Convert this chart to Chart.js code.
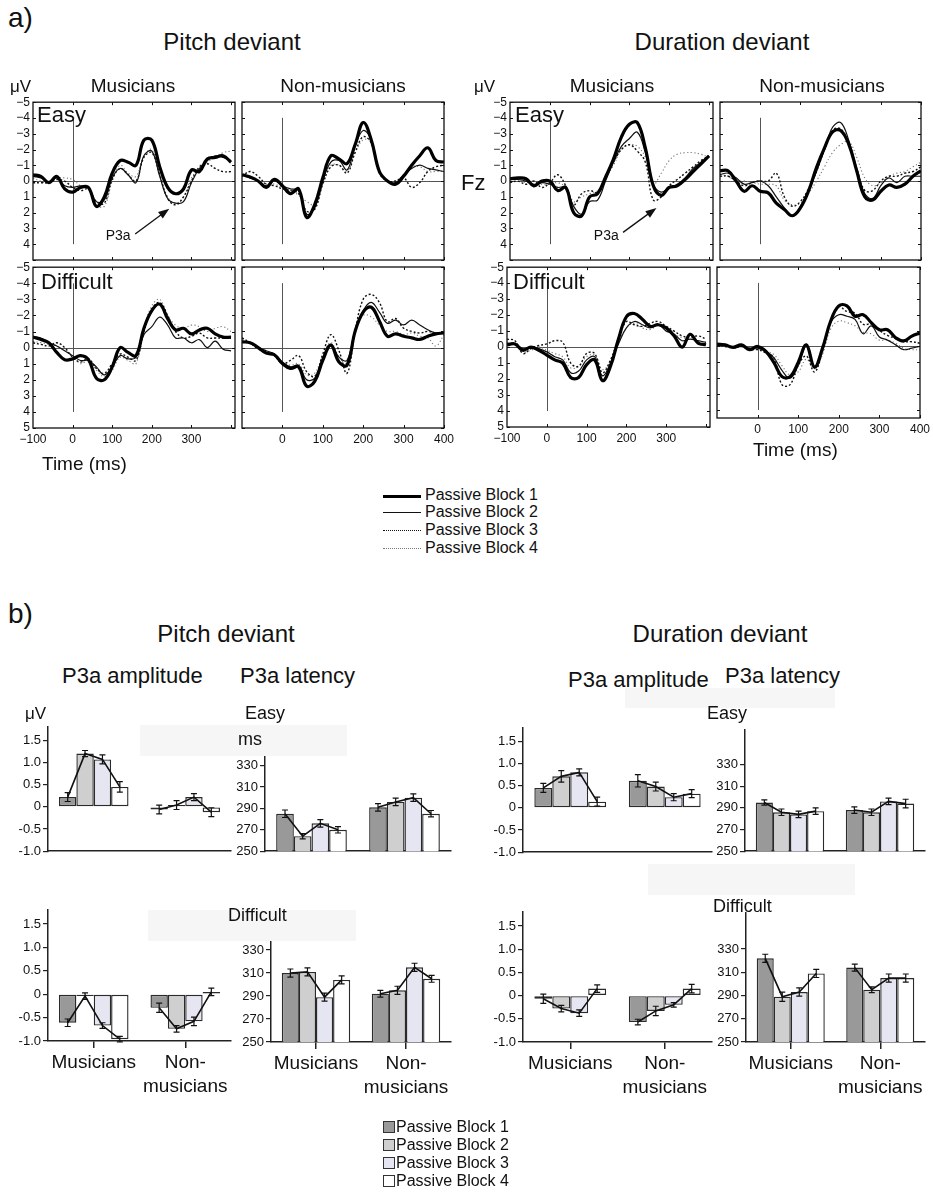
<!DOCTYPE html>
<html>
<head>
<meta charset="utf-8">
<script src="https://cdn.jsdelivr.net/npm/chart.js@4.4.1/dist/chart.umd.min.js"></script>
<style>
  body { margin: 0; background: #fff; font-family: "Liberation Sans", Arial, Helvetica, sans-serif; color: #111; }
  #page { position: relative; width: 933px; height: 1196px; overflow: hidden; background: #fff; }
  #page canvas { position: absolute; }
  .t { position: absolute; white-space: nowrap; line-height: 1; }
  .shade { position: absolute; background: #f6f6f6; }
</style>
</head>
<body>
<div id="page"></div>
<script>
Chart.defaults.font.family = '"Liberation Sans", Arial, Helvetica, sans-serif';
Chart.defaults.color = '#111';

// ── DATA ───────────────────────────────────────────────────────
const BLOCKS = ['Passive Block 1', 'Passive Block 2', 'Passive Block 3', 'Passive Block 4'];
const TIME = [-100,-80,-60,-40,-20,0,20,40,60,80,100,120,140,160,180,200,220,240,260,280,300,320,340,360,380,400];
const WAVE_Y_TICKS = [-5,-4,-3,-2,-1,0,1,2,3,4,5];

// a) ERP waveforms, Fz, µV (negative up)
const pitchMusEasy_b1 = [-0.4,-0.3,0.1,-0.3,0.5,0.7,0.4,0.4,1.6,1.0,-0.5,-1.3,-1.2,-1.0,-2.6,-2.6,-0.9,0.4,0.8,0.5,-0.7,-0.6,-1.4,-1.5,-1.6,-1.2];
const pitchMusEasy_b2 = [-0.3,-0.2,0.1,-0.2,0.3,0.4,0.3,0.4,1.3,1.2,-0.2,-0.8,-0.4,0.1,-1.6,-1.9,-0.3,1.1,1.4,1.3,0.1,-0.8,-1.3,-1.6,-1.5,-1.3];
const pitchMusEasy_b3 = [0.1,0.1,0.1,-0.1,0.0,0.4,0.6,0.5,1.3,1.4,-0.1,-0.8,-0.4,0.0,-1.5,-1.8,-0.4,1.1,1.5,1.0,0.0,-0.9,-1.1,-0.8,-0.6,-0.6];
const pitchMusEasy_b4 = [-0.2,0.0,0.1,-0.2,-0.2,-0.1,0.3,0.5,1.5,1.6,0.0,-1.0,-0.5,-0.3,-1.6,-2.0,-0.4,1.0,1.4,1.0,-0.2,-0.8,-1.2,-1.5,-1.8,-1.9];

const pitchNonEasy_b1 = [-0.4,-0.25,0.0,0.4,-0.1,0.3,0.8,0.5,2.3,1.5,-0.2,-1.6,-1.4,-1.1,-2.3,-3.7,-2.6,-0.6,0.0,0.2,-0.3,-1.0,-1.6,-2.1,-1.3,-1.2];
const pitchNonEasy_b2 = [-0.4,-0.2,0.0,0.3,0.0,0.3,0.5,0.6,2.1,1.7,0.0,-1.2,-1.3,-0.7,-2.2,-3.2,-2.6,-0.6,0.0,0.1,-0.4,-0.8,-1.0,-0.8,-0.7,-0.6];
const pitchNonEasy_b3 = [-0.3,-0.6,-0.3,0.2,0.3,0.5,0.6,0.8,1.9,1.8,0.2,-0.9,-1.0,-0.5,-1.8,-2.8,-2.4,-0.5,0.0,0.0,-0.2,0.4,0.1,-0.6,-0.9,-1.0];
const pitchNonEasy_b4 = [-0.3,-0.2,0.0,0.2,0.2,0.4,0.6,0.9,1.3,1.5,0.2,-1.0,-1.0,-0.6,-1.8,-2.6,-2.5,-0.6,0.0,0.0,-0.4,-0.9,-0.9,-0.6,-0.6,-0.6];

const pitchMusDiff_b1 = [-0.65,-0.5,-0.3,0.3,0.75,0.7,0.5,0.75,1.9,2.0,1.2,0.0,0.3,0.5,-1.2,-2.3,-2.7,-1.8,-1.1,-1.2,-0.85,-1.1,-1.2,-0.85,-0.65,-0.65];
const pitchMusDiff_b2 = [-0.7,-0.6,-0.3,-0.1,0.2,0.5,0.8,0.8,1.2,1.7,1.2,0.5,0.7,0.6,-0.8,-1.3,-1.9,-1.4,-0.6,-0.6,-0.3,-0.5,0.0,-0.4,0.1,0.2];
const pitchMusDiff_b3 = [-0.3,-0.2,-0.1,-0.3,0.0,0.6,0.9,0.7,1.3,1.6,1.0,0.4,0.6,0.8,-1.0,-2.4,-2.8,-2.0,-1.0,-0.6,-0.7,-0.9,-0.6,-0.6,-0.6,-0.6];
const pitchMusDiff_b4 = [-0.4,-0.3,-0.2,-0.1,0.2,0.5,1.0,0.8,1.4,1.8,1.4,0.6,0.8,1.0,-1.2,-2.6,-3.0,-2.0,-1.4,-1.2,-1.4,-1.3,-1.0,-1.2,-1.3,-1.0];

const pitchNonDiff_b1 = [-0.35,-0.3,0.0,0.35,0.45,1.0,1.3,1.2,2.4,2.1,0.8,-0.15,0.9,1.1,-1.0,-2.2,-2.5,-1.65,-0.7,-0.85,-0.7,-0.6,-0.5,-0.7,-0.85,-0.9];
const pitchNonDiff_b2 = [-0.4,-0.3,0.0,0.2,0.4,0.9,1.2,1.1,2.0,1.9,0.6,-0.2,0.6,0.8,-1.1,-2.3,-2.8,-2.2,-1.5,-1.7,-1.4,-1.7,-1.4,-1.1,-0.9,-0.9];
const pitchNonDiff_b3 = [-0.6,-0.3,0.1,0.3,0.5,1.0,0.8,0.5,1.5,1.8,0.4,-0.8,0.2,1.6,-1.0,-3.0,-3.3,-2.8,-1.6,-1.8,-1.2,-1.0,-0.9,-1.0,-0.9,-0.9];
const pitchNonDiff_b4 = [-0.5,-0.3,0.1,0.3,0.5,0.9,1.1,1.0,1.7,1.6,0.5,-0.3,0.6,1.0,-0.9,-2.0,-1.9,-1.4,-1.0,-1.0,-0.8,-0.9,-0.7,-0.6,-0.1,-0.8];

const durMusEasy_b1 = [-0.15,-0.2,-0.15,0.3,0.0,0.0,0.6,0.4,2.0,2.2,1.0,0.8,-0.25,-1.4,-2.8,-3.6,-3.7,-2.1,0.3,0.9,0.4,0.3,-0.1,-0.6,-1.1,-1.6];
const durMusEasy_b2 = [-0.1,-0.1,0.0,0.2,0.1,0.2,0.4,0.4,1.6,2.1,1.3,1.2,0.0,-1.2,-2.2,-2.7,-3.1,-1.8,0.2,0.7,0.4,0.2,-0.2,-0.8,-1.2,-1.6];
const durMusEasy_b3 = [0.1,0.0,0.2,0.0,0.4,0.1,-0.4,0.3,1.5,0.8,0.6,0.7,-0.3,-1.2,-2.0,-2.3,-1.9,-1.2,1.2,1.0,0.3,-0.1,-0.5,-0.9,-1.3,-1.6];
const durMusEasy_b4 = [0.0,-0.1,0.1,0.0,0.2,0.2,0.1,0.4,1.3,1.0,0.8,0.6,-0.2,-1.0,-2.0,-2.3,-2.2,-1.5,0.2,-0.5,-1.3,-1.7,-1.8,-1.8,-1.7,-1.5];

const durNonEasy_b1 = [-0.65,-0.65,0.0,0.65,0.3,0.65,0.75,1.4,1.8,2.2,1.7,0.65,-0.85,-2.1,-3.1,-3.2,-2.35,-0.65,1.0,1.2,0.65,0.25,0.4,0.2,-0.3,-0.65];
const durNonEasy_b2 = [-0.4,-0.5,-0.2,0.2,0.1,0.0,0.3,1.0,1.7,2.2,1.6,0.6,-0.6,-2.0,-3.4,-3.7,-2.6,-0.8,0.8,1.1,0.3,-0.2,0.1,-0.3,-0.3,-0.3];
const durNonEasy_b3 = [-0.3,-0.3,0.0,0.3,0.1,0.0,0.0,-0.5,1.0,1.6,1.3,0.5,-0.6,-2.0,-3.2,-3.3,-2.4,-0.8,0.6,0.6,0.0,-0.3,-0.3,-0.5,-0.6,-0.9];
const durNonEasy_b4 = [-0.4,-0.3,0.0,0.0,0.1,0.2,0.2,0.3,1.2,1.5,1.4,0.8,0.0,-0.9,-1.8,-2.3,-2.5,-1.5,-0.2,0.3,0.1,-0.3,-0.5,-0.6,-0.9,-1.2];

const durMusDiff_b1 = [-0.15,-0.2,0.2,0.0,0.2,0.5,0.8,1.0,1.9,1.9,1.1,0.8,2.1,1.2,-0.5,-1.9,-2.1,-1.75,-1.3,-1.4,-1.2,-0.7,0.0,-0.8,-0.25,-0.15];
const durMusDiff_b2 = [-0.2,-0.2,0.1,0.0,0.1,0.3,0.6,0.8,1.6,1.5,0.8,0.6,1.8,1.0,-0.2,-1.2,-1.6,-1.4,-1.2,-1.4,-1.0,-0.8,-0.4,-0.5,-0.4,-0.3];
const durMusDiff_b3 = [-0.5,-0.4,0.4,0.1,-0.1,-0.2,-0.4,-0.3,1.0,1.2,0.4,0.4,1.6,0.8,-0.5,-1.6,-1.4,-1.3,-1.5,-1.6,-1.3,-1.0,-0.7,-0.6,-0.7,-0.5];
const durMusDiff_b4 = [-0.3,-0.2,0.3,0.2,0.0,0.2,0.4,0.6,1.3,1.2,0.6,0.5,1.4,0.9,-0.3,-1.2,-1.5,-1.2,-1.1,-1.4,-1.2,-0.8,-0.6,-0.5,-0.4,-0.3];

const durNonDiff_b1 = [-0.15,-0.1,0.05,-0.1,0.2,0.0,0.3,1.0,1.9,1.9,1.0,-0.1,1.3,0.1,-1.6,-2.55,-2.55,-1.9,-2.0,-1.5,-1.05,-1.05,-0.55,-0.35,-0.65,-0.85];
const durNonDiff_b2 = [-0.1,-0.1,0.1,0.0,0.1,0.1,0.3,0.7,1.5,2.0,1.2,0.0,1.3,0.2,-1.5,-2.0,-1.9,-1.7,-0.8,-1.3,-0.6,-0.4,-0.1,0.2,0.1,0.0];
const durNonDiff_b3 = [-0.1,0.0,0.1,0.0,0.2,0.2,0.4,0.7,2.4,2.4,1.2,0.6,1.6,0.3,-1.6,-2.5,-2.2,-2.1,-1.4,-1.4,-1.0,-0.7,-0.5,-0.3,-0.3,-0.2];
const durNonDiff_b4 = [-0.1,0.0,0.1,0.0,0.1,0.1,0.3,0.5,1.2,1.8,1.6,0.8,1.4,0.5,-1.1,-1.6,-1.5,-1.3,-0.9,-0.8,-0.4,-0.4,-0.2,0.1,0.2,0.2];

// b) P3a bar charts: means and error bars per block (1..4)
const AMP_TICKS = [-1, -0.5, 0, 0.5, 1, 1.5];
const LAT_TICKS = [250, 270, 290, 310, 330];

const pitchAmpEasy_mus = [0.22, 1.2, 1.07, 0.45],     pitchAmpEasy_musErr = [0.1, 0.07, 0.1, 0.12];
const pitchAmpEasy_non = [-0.06, 0.04, 0.22, -0.12],  pitchAmpEasy_nonErr = [0.1, 0.1, 0.08, 0.1];
const pitchLatEasy_mus = [285, 264, 276, 270],        pitchLatEasy_musErr = [3.5, 2.5, 3.5, 3];
const pitchLatEasy_non = [291, 296, 300, 285],        pitchLatEasy_nonErr = [3.5, 3.5, 3.5, 3];
const durAmpEasy_mus = [0.45, 0.71, 0.8, 0.14],       durAmpEasy_musErr = [0.1, 0.13, 0.08, 0.1];
const durAmpEasy_non = [0.61, 0.48, 0.24, 0.32],      durAmpEasy_nonErr = [0.14, 0.1, 0.08, 0.09];
const durLatEasy_mus = [295, 286, 284, 287],          durLatEasy_musErr = [2.5, 3, 3, 3];
const durLatEasy_non = [288, 286, 296, 294],          durLatEasy_nonErr = [3, 3, 3, 4];

const pitchAmpDiff_mus = [-0.61, -0.04, -0.67, -0.96], pitchAmpDiff_musErr = [0.08, 0.07, 0.06, 0.06];
const pitchAmpDiff_non = [-0.29, -0.74, -0.58, 0.05],  pitchAmpDiff_nonErr = [0.1, 0.07, 0.09, 0.08];
const pitchLatDiff_mus = [310, 311, 289, 304],         pitchLatDiff_musErr = [3.5, 3.5, 3.5, 3.5];
const pitchLatDiff_non = [292, 295, 315, 305],         pitchLatDiff_nonErr = [3, 3.5, 3.5, 3];
const durAmpDiff_mus = [-0.07, -0.28, -0.38, 0.15],    durAmpDiff_musErr = [0.1, 0.07, 0.07, 0.08];
const durAmpDiff_non = [-0.57, -0.33, -0.2, 0.15],     durAmpDiff_nonErr = [0.06, 0.1, 0.05, 0.09];
const durLatDiff_mus = [322, 289, 293, 309],           durLatDiff_musErr = [3.5, 4, 3.5, 3.5];
const durLatDiff_non = [314, 295, 305, 305],           durLatDiff_nonErr = [3, 2.5, 3.5, 3.5];

// ── STYLES ─────────────────────────────────────────────────────
const WAVE_STYLE = [
  { borderColor: '#000', borderWidth: 3.2 },
  { borderColor: '#111', borderWidth: 1.2 },
  { borderColor: '#111', borderWidth: 1.4, borderDash: [2, 2] },
  { borderColor: '#777', borderWidth: 1.1, borderDash: [1.2, 2.4] }
];
const BAR_FILL = ['#999999', '#cfcfcf', '#e6e6f2', '#ffffff'];
const CAT_LABELS = ['Musicians', ['Non-', 'musicians']];

const page = document.getElementById('page');

function mkCanvas(l, t, w, h) {
  const cv = document.createElement('canvas');
  cv.width = w; cv.height = h;
  cv.style.left = l + 'px'; cv.style.top = t + 'px';
  page.appendChild(cv);
  return cv;
}

function txt(s, x, y, size, align, extra) {
  const d = document.createElement('div');
  d.className = 't';
  d.textContent = s;
  d.style.left = x + 'px';
  d.style.top = y + 'px';
  d.style.fontSize = size + 'px';
  d.style.transform = align === 'center' ? 'translate(-50%,-50%)' : 'translateY(-50%)';
  if (extra) Object.assign(d.style, extra);
  page.appendChild(d);
}

function shade(l, t, w, h) {
  const d = document.createElement('div');
  d.className = 'shade';
  Object.assign(d.style, { left: l + 'px', top: t + 'px', width: w + 'px', height: h + 'px' });
  page.appendChild(d);
}

const minus = v => (v < 0 ? '\u2212' + Math.abs(v) : String(v));

// ── WAVE PANELS ────────────────────────────────────────────────
const wavePlugin = {
  id: 'wave',
  beforeDatasetsDraw(chart) {
    const { ctx, chartArea: a, scales: { x, y } } = chart;
    ctx.save();
    ctx.strokeStyle = '#555';
    ctx.lineWidth = 1;
    const y0 = Math.round(y.getPixelForValue(0)) + 0.5;
    ctx.beginPath(); ctx.moveTo(a.left, y0); ctx.lineTo(a.right, y0); ctx.stroke();
    const x0 = Math.round(x.getPixelForValue(0)) + 0.5;
    ctx.beginPath(); ctx.moveTo(x0, y.getPixelForValue(-4)); ctx.lineTo(x0, y.getPixelForValue(4)); ctx.stroke();
    ctx.restore();
  },
  afterDraw(chart, args, o) {
    const { ctx, chartArea: a, scales: { x, y } } = chart;
    ctx.save();
    ctx.strokeStyle = '#111';
    ctx.lineWidth = 1.3;
    ctx.strokeRect(a.left, a.top, a.width, a.height);
    ctx.lineWidth = 1;
    ctx.beginPath();
    WAVE_Y_TICKS.forEach(v => {
      if (v > y.max) return;
      const py = Math.round(y.getPixelForValue(v)) + 0.5;
      ctx.moveTo(a.left, py); ctx.lineTo(a.left + 3, py);
      ctx.moveTo(a.right, py); ctx.lineTo(a.right - 3, py);
    });
    [0, 100, 200, 300, 400].forEach(v => {
      if (v > x.max) return;
      const px = Math.round(x.getPixelForValue(v)) + 0.5;
      ctx.moveTo(px, a.top); ctx.lineTo(px, a.top + 3);
      ctx.moveTo(px, a.bottom); ctx.lineTo(px, a.bottom - 3);
    });
    ctx.stroke();
    if (o.p3a) {
      const p = o.p3a;
      ctx.fillStyle = '#111';
      ctx.font = '14px "Liberation Sans", Arial, sans-serif';
      ctx.textAlign = 'center'; ctx.textBaseline = 'middle';
      ctx.fillText('P3a', x.getPixelForValue(p.lt), y.getPixelForValue(p.lv));
      const tx = x.getPixelForValue(p.tt), ty = y.getPixelForValue(p.tv);
      const hx = x.getPixelForValue(p.ht), hy = y.getPixelForValue(p.hv);
      const ang = Math.atan2(hy - ty, hx - tx);
      ctx.lineWidth = 1.3;
      ctx.beginPath(); ctx.moveTo(tx, ty); ctx.lineTo(hx - 8 * Math.cos(ang), hy - 8 * Math.sin(ang)); ctx.stroke();
      ctx.beginPath();
      ctx.moveTo(hx, hy);
      ctx.lineTo(hx - 11 * Math.cos(ang) + 4 * Math.sin(ang), hy - 11 * Math.sin(ang) - 4 * Math.cos(ang));
      ctx.lineTo(hx - 11 * Math.cos(ang) - 4 * Math.sin(ang), hy - 11 * Math.sin(ang) + 4 * Math.cos(ang));
      ctx.closePath(); ctx.fill();
    }
    ctx.restore();
  }
};

function wavePanel(box, series, o) {
  const PL = 30, PT = 10, PR = 14, PB = 22;
  const cv = mkCanvas(box.l - PL, box.t - PT, box.w + PL + PR, box.h + PT + PB);
  new Chart(cv, {
    type: 'line',
    data: {
      datasets: series.map((s, i) => ({
        label: BLOCKS[i],
        data: s.map((v, k) => ({ x: TIME[k], y: v })),
        pointRadius: 0,
        tension: 0.4,
        fill: false,
        ...WAVE_STYLE[i]
      }))
    },
    options: {
      responsive: false,
      animation: false,
      layout: { padding: { top: PT, right: PR } },
      plugins: { legend: { display: false }, tooltip: { enabled: false }, wave: { p3a: o.p3a } },
      scales: {
        x: {
          type: 'linear', min: -100, max: o.xMax,
          afterFit: s => { s.height = PB; },
          afterBuildTicks: s => { s.ticks = (o.xLabels || []).map(v => ({ value: v })); },
          grid: { display: false, drawTicks: false },
          border: { display: false },
          ticks: { display: !!o.xLabels, font: { size: 12 }, color: '#111', padding: 4, maxRotation: 0, autoSkip: false, callback: minus }
        },
        y: {
          min: -5, max: o.yMax || 5, reverse: true,
          afterFit: s => { s.width = PL; },
          afterBuildTicks: s => { s.ticks = (o.yLabels || []).map(v => ({ value: v })); },
          grid: { display: false, drawTicks: false },
          border: { display: false },
          ticks: { display: !!o.yLabels, font: { size: 12 }, color: '#111', padding: 3, autoSkip: false, callback: minus }
        }
      }
    },
    plugins: [wavePlugin]
  });
}

const Y_EASY = [-5,-4,-3,-2,-1,0,1,2,3,4];
const Y_DIFF = [-5,-4,-3,-2,-1,0,1,2,3,4,5];

wavePanel({ l: 33, t: 102, w: 202, h: 158 },
  [pitchMusEasy_b1, pitchMusEasy_b2, pitchMusEasy_b3, pitchMusEasy_b4],
  { xMax: 410, yLabels: Y_EASY, p3a: { lt: 115, lv: 3.5, tt: 158, tv: 3.35, ht: 244, hv: 1.75 } });
wavePanel({ l: 242, t: 102, w: 202, h: 158 },
  [pitchNonEasy_b1, pitchNonEasy_b2, pitchNonEasy_b3, pitchNonEasy_b4], { xMax: 400 });
wavePanel({ l: 33, t: 267, w: 202, h: 161 },
  [pitchMusDiff_b1, pitchMusDiff_b2, pitchMusDiff_b3, pitchMusDiff_b4],
  { xMax: 410, yLabels: Y_DIFF, xLabels: [-100, 0, 100, 200, 300] });
wavePanel({ l: 242, t: 267, w: 202, h: 161 },
  [pitchNonDiff_b1, pitchNonDiff_b2, pitchNonDiff_b3, pitchNonDiff_b4],
  { xMax: 400, xLabels: [0, 100, 200, 300, 400] });

wavePanel({ l: 510, t: 102, w: 203, h: 158 },
  [durMusEasy_b1, durMusEasy_b2, durMusEasy_b3, durMusEasy_b4],
  { xMax: 410, yLabels: Y_EASY, p3a: { lt: 142, lv: 3.5, tt: 184, tv: 3.25, ht: 268, hv: 1.7 } });
wavePanel({ l: 720, t: 102, w: 201, h: 158 },
  [durNonEasy_b1, durNonEasy_b2, durNonEasy_b3, durNonEasy_b4], { xMax: 400 });
wavePanel({ l: 507, t: 267, w: 203, h: 160 },
  [durMusDiff_b1, durMusDiff_b2, durMusDiff_b3, durMusDiff_b4],
  { xMax: 410, yLabels: Y_DIFF, xLabels: [-100, 0, 100, 200, 300] });
wavePanel({ l: 717, t: 267, w: 203, h: 151 },
  [durNonDiff_b1, durNonDiff_b2, durNonDiff_b3, durNonDiff_b4],
  { xMax: 400, yMax: 4.5, xLabels: [0, 100, 200, 300, 400] });

// ── BAR PANELS ─────────────────────────────────────────────────
const errPlugin = {
  id: 'errbars',
  afterDatasetsDraw(chart) {
    const { ctx, scales: { y } } = chart;
    ctx.save();
    ctx.strokeStyle = '#111';
    chart.data.labels.forEach((_, g) => {
      const pts = chart.data.datasets.map((ds, i) => ({
        x: chart.getDatasetMeta(i).data[g].x, v: ds.data[g], e: ds.err[g]
      }));
      ctx.lineWidth = 1.6;
      ctx.beginPath();
      pts.forEach((p, k) => {
        const py = y.getPixelForValue(p.v);
        k ? ctx.lineTo(p.x, py) : ctx.moveTo(p.x, py);
      });
      ctx.stroke();
      ctx.lineWidth = 1.2;
      ctx.beginPath();
      pts.forEach(p => {
        const lo = y.getPixelForValue(p.v - p.e), hi = y.getPixelForValue(p.v + p.e);
        ctx.moveTo(p.x, lo); ctx.lineTo(p.x, hi);
        ctx.moveTo(p.x - 3, lo); ctx.lineTo(p.x + 3, lo);
        ctx.moveTo(p.x - 3, hi); ctx.lineTo(p.x + 3, hi);
      });
      ctx.stroke();
    });
    ctx.restore();
  }
};

const fmtAmp = v => (v === 0 ? '0' : v.toFixed(1));
const fmtLat = v => String(v);

function barPanel(area, yMin, yMax, yTicks, fmt, mus, non, musErr, nonErr, cats) {
  const PL = 44, PR = 8, PT = 10, PB = cats ? 62 : 4;
  const cv = mkCanvas(area.l - PL, area.t - PT, area.w + PL + PR, area.h + PT + PB);
  new Chart(cv, {
    type: 'bar',
    data: {
      labels: cats ? CAT_LABELS : ['Musicians', 'Non-musicians'],
      datasets: BLOCKS.map((b, i) => ({
        label: b,
        data: [mus[i], non[i]],
        err: [musErr[i], nonErr[i]],
        backgroundColor: BAR_FILL[i],
        borderColor: '#2a2a2a',
        borderWidth: 1.4,
        borderSkipped: false,
        categoryPercentage: 0.76,
        barPercentage: 1
      }))
    },
    options: {
      responsive: false,
      animation: false,
      layout: { padding: { top: PT, right: PR } },
      plugins: { legend: { display: false }, tooltip: { enabled: false } },
      scales: {
        x: {
          afterFit: s => { s.height = PB; },
          grid: { display: cats, drawOnChartArea: false, offset: false, tickLength: 7, color: '#222', lineWidth: 1.5 },
          border: { display: true, color: '#222', width: 1.5 },
          ticks: { display: cats, font: { size: 19, lineHeight: 1.3 }, color: '#111', padding: 2, maxRotation: 0, autoSkip: false }
        },
        y: {
          min: yMin, max: yMax,
          afterFit: s => { s.width = PL; },
          afterBuildTicks: s => { s.ticks = yTicks.map(v => ({ value: v })); },
          grid: { drawOnChartArea: false, tickLength: 5, color: '#222', lineWidth: 1.2 },
          border: { display: true, color: '#222', width: 1.5 },
          ticks: { font: { size: 13 }, color: '#111', padding: 2, autoSkip: false, callback: fmt }
        }
      }
    },
    plugins: [errPlugin]
  });
}

// faint background boxes behind some labels
shade(140, 725, 207, 31);
shade(148, 910, 208, 31);
shade(625, 688, 210, 20);
shade(648, 864, 207, 31);

barPanel({ l: 48, t: 727, w: 183, h: 130 }, -1, 1.8, AMP_TICKS, fmtAmp,
  pitchAmpEasy_mus, pitchAmpEasy_non, pitchAmpEasy_musErr, pitchAmpEasy_nonErr, false);
barPanel({ l: 265, t: 757, w: 186, h: 100 }, 250, 338, LAT_TICKS, fmtLat,
  pitchLatEasy_mus, pitchLatEasy_non, pitchLatEasy_musErr, pitchLatEasy_nonErr, false);
barPanel({ l: 523, t: 728, w: 189, h: 130 }, -1, 1.8, AMP_TICKS, fmtAmp,
  durAmpEasy_mus, durAmpEasy_non, durAmpEasy_musErr, durAmpEasy_nonErr, false);
barPanel({ l: 745, t: 730, w: 180, h: 127 }, 250, 362, LAT_TICKS, fmtLat,
  durLatEasy_mus, durLatEasy_non, durLatEasy_musErr, durLatEasy_nonErr, false);

barPanel({ l: 48, t: 910, w: 183, h: 131 }, -1, 1.8, AMP_TICKS, fmtAmp,
  pitchAmpDiff_mus, pitchAmpDiff_non, pitchAmpDiff_musErr, pitchAmpDiff_nonErr, true);
barPanel({ l: 271, t: 942, w: 180, h: 100 }, 250, 337, LAT_TICKS, fmtLat,
  pitchLatDiff_mus, pitchLatDiff_non, pitchLatDiff_musErr, pitchLatDiff_nonErr, true);
barPanel({ l: 523, t: 912, w: 189, h: 130 }, -1, 1.8, AMP_TICKS, fmtAmp,
  durAmpDiff_mus, durAmpDiff_non, durAmpDiff_musErr, durAmpDiff_nonErr, true);
barPanel({ l: 746, t: 913, w: 179, h: 129 }, 250, 361, LAT_TICKS, fmtLat,
  durLatDiff_mus, durLatDiff_non, durLatDiff_musErr, durLatDiff_nonErr, true);

// ── TEXT ───────────────────────────────────────────────────────
txt('a)', 8, 18, 28);
txt('Pitch deviant', 232, 42, 24, 'center');
txt('Duration deviant', 722, 42, 24, 'center');
txt('\u03bcV', 10, 86, 17);
txt('\u03bcV', 474, 86, 17);
txt('Musicians', 133, 85, 19, 'center');
txt('Non-musicians', 343, 85, 19, 'center');
txt('Musicians', 612, 85, 19, 'center');
txt('Non-musicians', 822, 85, 19, 'center');
txt('Easy', 37, 115, 22);
txt('Difficult', 41, 282, 22);
txt('Easy', 515, 115, 22);
txt('Difficult', 513, 282, 22);
txt('Fz', 461, 183, 22);
txt('Time (ms)', 42, 463, 19);
txt('Time (ms)', 753, 449, 19);

// legend a)
const LEG_A = [
  'border-top:3px solid #000',
  'border-top:1.2px solid #111',
  'border-top:1.5px dotted #111',
  'border-top:1px dotted #777'
];
[495, 512, 530, 548].forEach((cy, i) => {
  const ln = document.createElement('div');
  ln.style.cssText = 'position:absolute;left:383px;width:38px;height:0;top:' + cy + 'px;' + LEG_A[i];
  page.appendChild(ln);
  txt(BLOCKS[i], 425, cy, 16);
});

txt('b)', 8, 614, 28);
txt('Pitch deviant', 226, 634, 24, 'center');
txt('Duration deviant', 720, 634, 24, 'center');
txt('P3a amplitude', 62, 676, 22);
txt('P3a latency', 240, 676, 22);
txt('P3a amplitude', 568, 680, 22);
txt('P3a latency', 725, 676, 22);
txt('\u03bcV', 25, 713, 17);
txt('Easy', 245, 713, 18);
txt('ms', 238, 739, 18);
txt('Easy', 707, 713, 18);
txt('Difficult', 228, 915, 18);
txt('Difficult', 713, 906, 18);

// legend b)
[1127, 1145, 1163, 1181].forEach((cy, i) => {
  const sq = document.createElement('div');
  sq.style.cssText = 'position:absolute;left:383px;width:10px;height:10px;border:1px solid #333;top:' + (cy - 6) + 'px;background:' + BAR_FILL[i];
  page.appendChild(sq);
  txt(BLOCKS[i], 396, cy, 16);
});
</script>
</body>
</html>
